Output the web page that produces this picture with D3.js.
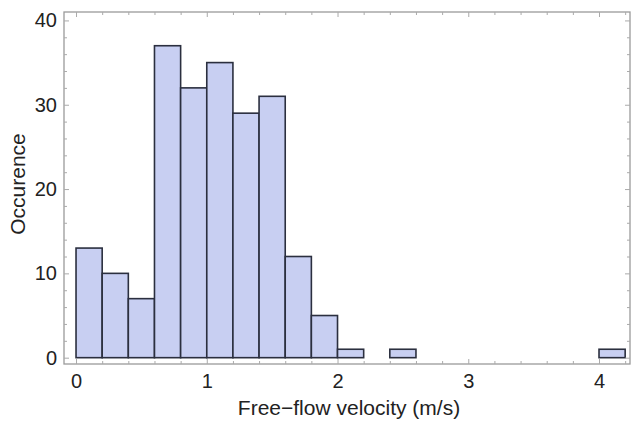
<!DOCTYPE html>
<html><head><meta charset="utf-8">
<script src="https://cdn.jsdelivr.net/npm/d3@7"></script>
<style>body{margin:0;background:#fff;} svg{display:block;}</style>
</head><body>
<svg id="c" width="631" height="423"></svg>
<script>
const binStarts = [0,0.2,0.4,0.6,0.8,1.0,1.2,1.4,1.6,1.8,2.0,2.4,4.0];
const counts    = [13,10,7,37,32,35,29,31,12,5,1,1,1];
const binWidth = 0.2;
const xTicks = [0,1,2,3,4];
const yTicks = [0,10,20,30,40];

const svg = d3.select("#c");
const L=64, R=630, T=12, B=364;
const x = d3.scaleLinear().domain([-0.092,4.237]).range([L,R]);
const y = d3.scaleLinear().domain([-0.75,41.0]).range([B,T]);
const font = "Liberation Sans, Arial, sans-serif";

// bars
svg.append("g").selectAll("rect").data(binStarts).join("rect")
  .attr("x",(d)=>x(d))
  .attr("width",(d)=>x(d+binWidth)-x(d))
  .attr("y",(d,i)=>y(counts[i]))
  .attr("height",(d,i)=>y(0)-y(counts[i]))
  .attr("fill","#c8cff2")
  .attr("stroke","#2b2f3f")
  .attr("stroke-width",1.6);

// frame
svg.append("rect").attr("x",L).attr("y",T).attr("width",R-L).attr("height",B-T)
  .attr("fill","none").attr("stroke","#9a9a9a").attr("stroke-width",1.3);

// axes with inward ticks
const xMinor = d3.range(0,4.21,0.2).filter(v=>Math.abs(v-Math.round(v))>1e-6);
const yMinor = d3.range(0,41,2).filter(v=>v%10!==0);
svg.append("g").attr("transform",`translate(0,${B})`)
  .call(d3.axisBottom(x).tickValues(xTicks).tickSize(-5).tickPadding(10).tickFormat(d3.format("d")));
svg.append("g").attr("transform",`translate(0,${B})`)
  .call(d3.axisBottom(x).tickValues(xMinor).tickSize(-3).tickFormat(""));
svg.append("g").attr("transform",`translate(0,${T})`)
  .call(d3.axisTop(x).tickValues(xTicks).tickSize(-5).tickFormat(""));
svg.append("g").attr("transform",`translate(0,${T})`)
  .call(d3.axisTop(x).tickValues(xMinor).tickSize(-3).tickFormat(""));
svg.append("g").attr("transform",`translate(${L},0)`)
  .call(d3.axisLeft(y).tickValues(yTicks).tickSize(-5).tickPadding(7).tickFormat(d3.format("d")));
svg.append("g").attr("transform",`translate(${L},0)`)
  .call(d3.axisLeft(y).tickValues(yMinor).tickSize(-3).tickFormat(""));
svg.append("g").attr("transform",`translate(${R},0)`)
  .call(d3.axisRight(y).tickValues(yTicks).tickSize(-5).tickFormat(""));
svg.append("g").attr("transform",`translate(${R},0)`)
  .call(d3.axisRight(y).tickValues(yMinor).tickSize(-3).tickFormat(""));
svg.selectAll(".domain").remove();
svg.selectAll(".tick line").attr("stroke","#aaaaaa");
svg.selectAll(".tick text").attr("font-family",font).attr("font-size",20).attr("fill","#222");

// axis titles
svg.append("text").attr("x",349).attr("y",415).attr("text-anchor","middle")
  .attr("font-family",font).attr("font-size",21).attr("fill","#222")
  .text("Free\u2212flow velocity (m/s)");
svg.append("text").attr("transform","translate(25,184) rotate(-90)").attr("text-anchor","middle")
  .attr("font-family",font).attr("font-size",21).attr("fill","#222")
  .text("Occurence");
</script>
</body></html>
